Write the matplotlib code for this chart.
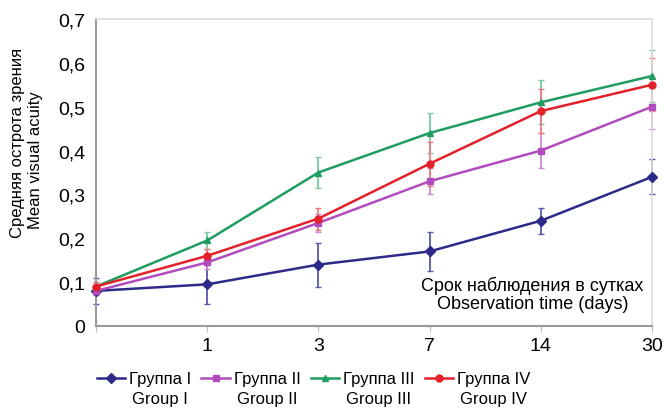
import numpy as np
import matplotlib.pyplot as plt

plt.rcParams['font.family'] = ['Liberation Sans', 'DejaVu Sans']

# observation days (first point = baseline, no label)
days = ['', '1', '3', '7', '14', '30']

g1 = [0.08, 0.095, 0.14, 0.17, 0.24, 0.34]
g1_err = [0.03, 0.045, 0.05, 0.045, 0.03, 0.04]
g2 = [0.08, 0.145, 0.235, 0.33, 0.40, 0.50]
g2_err = [0.01, 0.015, 0.02, 0.03, 0.04, 0.05]
g3 = [0.09, 0.195, 0.35, 0.44, 0.51, 0.57]
g3_err = [0.01, 0.02, 0.036, 0.045, 0.05, 0.06]
g4 = [0.09, 0.16, 0.245, 0.37, 0.49, 0.55]
g4_err = [0.01, 0.015, 0.025, 0.05, 0.05, 0.06]

labels_ru = ['Группа I', 'Группа II', 'Группа III', 'Группа IV']
labels_en = ['Group I', 'Group II', 'Group III', 'Group IV']
yticks = [0, 0.1, 0.2, 0.3, 0.4, 0.5, 0.6, 0.7]
ytick_labels = ['0', '0,1', '0,2', '0,3', '0,4', '0,5', '0,6', '0,7']

series = [(g1, g1_err, '#2d2a8a', '#5a57a8', 'D'),
          (g2, g2_err, '#b24cbe', '#cf8ad6', 's'),
          (g3, g3_err, '#1f9d60', '#7cc9a0', '^'),
          (g4, g4_err, '#e4202a', '#ee7a7e', 'o')]

fig = plt.figure(figsize=(6.64, 4.14), dpi=100)
ax = fig.add_axes([96 / 664, 1 - 327 / 414, (652 - 96) / 664, (327 - 20) / 414])

x = np.arange(len(days))
handles = []
for (vals, err, col, ecol, mk) in series:
    ax.errorbar(x, vals, yerr=err, fmt='none', ecolor=ecol, elinewidth=1.3,
                capsize=2.5, capthick=1.0, clip_on=False, zorder=2)
    h, = ax.plot(x, vals, color=col, lw=1.8, marker=mk, ms=5,
                 clip_on=False, zorder=3)
    handles.append(h)

ax.set_xlim(0, 5)
ax.set_ylim(0, 0.7)
ax.set_xticks(x)
ax.set_xticklabels(days, fontsize=14)
ax.set_yticks(yticks)
ax.set_yticklabels(ytick_labels, fontsize=14)
ax.tick_params(axis='y', length=0, pad=8)
ax.tick_params(axis='x', length=4, color='#bbbbbb', pad=4)
for s in ['left', 'bottom']:
    ax.spines[s].set_color('#9a9a9a')
    ax.spines[s].set_linewidth(1.5)
for s in ['top', 'right']:
    ax.spines[s].set_color('#dddddd')
    ax.spines[s].set_linewidth(1.2)

ax.text(0.785, 0.045, 'Срок наблюдения в сутках\nObservation time (days)',
        transform=ax.transAxes, ha='center', va='bottom', fontsize=13,
        linespacing=1.1)

fig.text(18 / 664, 1 - 143 / 414, 'Средняя острота зрения', rotation=90,
         ha='center', va='center', fontsize=12)
fig.text(36 / 664, 1 - 160 / 414, 'Mean visual acuity', rotation=90,
         ha='center', va='center', fontsize=12)

leg = fig.legend(handles, labels_ru, loc='center left', ncol=4,
                 bbox_to_anchor=(90 / 664, 1 - 380 / 414), frameon=False,
                 fontsize=12, handlelength=1.7, handletextpad=0.25,
                 columnspacing=0.6, borderaxespad=0)

fig.canvas.draw()
inv = fig.transFigure.inverted()
for t, en in zip(leg.get_texts(), labels_en):
    bb = t.get_window_extent()
    cx, cy = inv.transform(((bb.x0 + bb.x1) / 2, bb.y0))
    fig.text(cx, cy - 0.012, en, ha='center', va='top', fontsize=12)

fig.savefig('out.png', dpi=100)
